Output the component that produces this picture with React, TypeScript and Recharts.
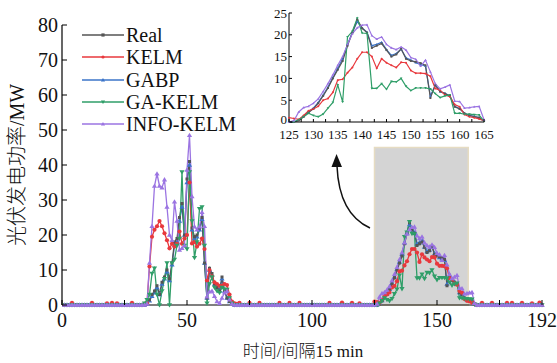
import React from "react";
import { Line, LineChart, ReferenceArea, XAxis, YAxis } from "recharts";

// time step index 1..192 (15 min interval), values in MW
const realValues = [
  0, 0, 0, 0, 0, 0, 0, 0, 0, 0, 0, 0, 0, 0, 0, 0,
  0, 0, 0, 0, 0, 0, 0, 0, 0, 0, 0, 0, 0, 0, 0, 0,
  0, 0.2, 1.5, 3, 4, 5.5, 3, 6.5, 8, 10, 7.5, 12, 18, 19, 25, 29,
  20, 36, 41, 22, 19.5, 20, 22, 25, 12, 2, 10.5, 9, 6, 5, 4, 8,
  4, 2, 1, 0.5, 0, 0, 0, 0, 0, 0, 0, 0, 0, 0, 0, 0,
  0, 0, 0, 0, 0, 0, 0, 0, 0, 0, 0, 0, 0, 0, 0, 0,
  0, 0, 0, 0, 0, 0, 0, 0, 0, 0, 0, 0, 0, 0, 0, 0,
  0, 0, 0, 0, 0, 0, 0, 0, 0, 0, 0, 0, 0, 0, 0.3, 1.2,
  2.2, 3, 4.3, 6, 7.8, 10, 12, 14, 17.5, 20.5, 23.5, 21.5, 20.5, 17, 17.5, 18,
  16.5, 15, 15.5, 16.8, 14.5, 14, 13.8, 13.5, 13, 5.5, 8.5, 7, 6.5, 6, 3.5, 3,
  2, 1.5, 1.2, 1, 0.2, 0, 0, 0, 0, 0, 0, 0, 0, 0, 0, 0,
  0, 0, 0, 0, 0, 0, 0, 0, 0, 0, 0, 0, 0, 0, 0, 0,
];

const kelmValues = [
  0, 0, 0, 0.6, 0, 0, 0, 0, 0, 0, 0, 0.6, 0, 0, 0, 0,
  0, 0.5, 0, 0.6, 0, 0.5, 0, 0, 0, 0, 0, 0.6, 0, 0, 0, 0,
  0.3, 0.5, 11, 19.5, 21.5, 22.5, 24, 22.5, 20.5, 18.5, 16.2, 17.5, 16.7, 17.5, 21, 17.5,
  19, 20, 35, 17.6, 18, 16.7, 17.5, 19, 16, 7, 10, 8.2, 6.5, 6, 5.5, 5.5,
  6, 5.7, 3, 1, 0.5, 0.3, 0.6, 0, 0, 0, 0.6, 0, 0, 0, 0.6, 0,
  0, 0, 0, 0, 0, 0, 0.6, 0, 0, 0, 0.6, 0, 0, 0, 0.6, 0,
  0, 0, 0, 0, 0, 0, 0, 0, 0, 0, 0.6, 0, 0, 0, 0, 0.7,
  0, 0, 0, 0.6, 0, 0, 0.5, 0, 0, 0, 0, 0, 1, 0.8, 0.6, 1.5,
  2.6, 3, 3.6, 5, 5.4, 6.8, 9.6, 9.8, 11.3, 12.5, 14.5, 16, 16, 15, 12.3, 14.5,
  13.6, 13, 12.5, 13.7, 13.6, 11.8, 11.2, 11.2, 11.1, 10.5, 7.7, 7.3, 6.2, 5.8, 4, 3.5,
  1.7, 1.2, 1, 0.7, 0.3, 0, 0, 0.6, 0, 0, 0, 0.6, 0, 0, 0, 0,
  0, 0.6, 0, 0.6, 0, 0, 0, 0.6, 0, 0, 0, 0.5, 0, 0, 0.7, 0,
];

const gabpValues = [
  0, 0, 0, 0, 0, 0, 0, 0, 0, 0, 0, 0, 0, 0, 0, 0,
  0, 0, 0, 0, 0, 0, 0, 0, 0, 0, 0, 0, 0, 0, 0, 0,
  0, 0.2, 1.2, 2.5, 3.5, 5, 3, 6, 7.5, 9.5, 7, 11.5, 17, 18, 24, 28,
  20, 35, 40, 21.5, 19, 19.5, 21.5, 24.5, 12, 2, 10, 8.5, 6, 5, 4, 7.5,
  4, 2, 1, 0.5, 0, 0, 0, 0, 0, 0, 0, 0, 0, 0, 0, 0,
  0, 0, 0, 0, 0, 0, 0, 0, 0, 0, 0, 0, 0, 0, 0, 0,
  0, 0, 0, 0, 0, 0, 0, 0, 0, 0, 0, 0, 0, 0, 0, 0,
  0, 0, 0, 0, 0, 0, 0, 0, 0, 0, 0, 0, 0, 0, 0.5, 1.3,
  2.3, 3.2, 4.5, 6.2, 8, 10.2, 12.3, 14.5, 17.8, 20.6, 23, 21.6, 20.6, 17.5, 17.8, 18.3,
  16.6, 15.3, 15.7, 16.7, 14.7, 14.2, 13.6, 13.2, 12.8, 6, 8.4, 7, 6.6, 6, 3.6, 3.1,
  2, 1.5, 1.3, 1, 0.2, 0, 0, 0, 0, 0, 0, 0, 0, 0, 0, 0,
  0, 0, 0, 0, 0, 0, 0, 0, 0, 0, 0, 0, 0, 0, 0, 0,
];

const gaKelmValues = [
  0, 0, 0, 0, 0, 0, 0, 0, 0, 0, 0, 0, 0, 0, 0, 0,
  0, 0, 0, 0, 0, 0, 0, 0, 0, 0, 0, 0, 0, 0, 0, 0,
  0.5, 1.5, 3, 9, 10.5, 3, 0, 4, 7.5, 12, 0, 12, 13, 17, 19, 38,
  17, 16, 38, 24, 13.5, 18, 27.5, 28, 17, 0.5, 6, 8, 5, 4, 3.5, 5,
  4.5, 4.4, 2, 0.5, 0, 0, 0, 0, 0, 0, 0, 0, 0, 0, 0, 0,
  0, 0, 0, 0, 0, 0, 0, 0, 0, 0, 0, 0, 0, 0, 0, 0,
  0, 0, 0, 0, 0, 0, 0, 0, 0, 0, 0, 0, 0, 0, 0, 0,
  0, 0, 0, 0, 0, 0, 0, 0, 0, 0, 0, 0, 0, 0, 0.5, 1.2,
  2, 1.5, 1.2, 1.8, 3.2, 4.5, 8.5, 4.6, 19.5, 20.8, 23.8, 20.4, 20.3, 7.7, 7.7, 8.8,
  7.5, 9.3, 9.2, 10, 8.2, 7.2, 7.8, 7.8, 7.8, 7.6, 6.5, 5.6, 6, 6.2, 2, 2,
  1.8, 1.8, 1.7, 1.6, 0.2, 0, 0, 0, 0, 0, 0, 0, 0, 0, 0, 0,
  0, 0, 0, 0, 0, 0, 0, 0, 0, 0, 0, 0, 0, 0, 0, 0,
];

const infoKelmValues = [
  0, 0, 0, 0, 0, 0, 0, 0, 0, 0, 0, 0, 0, 0, 0, 0,
  0, 0, 0, 0, 0, 0, 0, 0, 0, 0, 0, 0, 0, 0, 0, 0,
  0, 0.3, 12, 22.5, 34, 37.5, 34, 33.5, 35.8, 28, 20, 18.5, 29.5, 24, 15.7, 16.2,
  17, 38.6, 48.5, 31, 22.4, 21.5, 22.4, 26.5, 22.5, 2.4, 3.8, 4, 2.5, 1, 0.5, 2,
  3.5, 4, 1.5, 0.3, 0, 0, 0, 0, 0, 0, 0, 0, 0, 0, 0, 0,
  0, 0, 0, 0, 0, 0, 0, 0, 0, 0, 0, 0, 0, 0, 0, 0,
  0, 0, 0, 0, 0, 0, 0, 0, 0, 0, 0, 0, 0, 0, 0, 0,
  0, 0, 0, 0, 0, 0, 0, 0, 0, 0, 0, 0, 0, 0.3, 2.3, 3.3,
  3.6, 4.3, 5.3, 7, 8.8, 10.8, 13, 15, 17.8, 20.3, 21.6, 22.2, 22.3, 19.8, 19, 19.5,
  17.8, 17, 16.6, 17.2, 16.5, 14.8, 14.4, 12.8, 14.2, 11.5, 8.8, 7.6, 8, 8.5, 4.8, 4.7,
  3.2, 3.3, 3.5, 3.6, 0.5, 0, 0, 0, 0, 0, 0, 0, 0, 0, 0, 0,
  0, 0, 0, 0, 0, 0, 0, 0, 0, 0, 0, 0, 0, 0, 0, 0,
];

const mainXTicks = [0, 25, 50, 75, 100, 125, 150, 175, 192];
const mainXLabels = [0, 50, 100, 150, 192];
const mainYTicks = [0, 10, 20, 30, 40, 50, 60, 70, 80];
const insetXTicks = [125, 127.5, 130, 132.5, 135, 137.5, 140, 142.5, 145, 147.5, 150, 152.5, 155, 157.5, 160, 162.5, 165];
const insetYTicks = [0, 5, 10, 15, 20, 25];
const zoomRange = [125, 162.5];
const zoomTop = 45;

type Shape = "square" | "circle" | "triUp" | "triDown";

const series: { key: string; name: string; color: string; shape: Shape; size: number }[] = [
  { key: "real", name: "Real", color: "#555555", shape: "square", size: 1.5 },
  { key: "kelm", name: "KELM", color: "#e8383d", shape: "circle", size: 2.1 },
  { key: "gabp", name: "GABP", color: "#3b74c9", shape: "triUp", size: 2 },
  { key: "gaKelm", name: "GA-KELM", color: "#2f9e68", shape: "triDown", size: 2 },
  { key: "infoKelm", name: "INFO-KELM", color: "#9b74e2", shape: "triUp", size: 2 },
];
// GABP goes underneath so the Real trace stays visible
const drawOrder = ["gabp", "real", "kelm", "gaKelm", "infoKelm"];

const data = realValues.map((v, i) => ({
  x: i + 1,
  real: v,
  kelm: kelmValues[i],
  gabp: gabpValues[i],
  gaKelm: gaKelmValues[i],
  infoKelm: infoKelmValues[i],
}));
const insetData = data.filter((d) => d.x >= 125 && d.x <= 165);

const SERIF = '"Liberation Serif", "Times New Roman", serif';
const CJK = '"Liberation Serif", "Noto Sans CJK SC", serif';

function marker(shape: Shape, color: string, cx: number, cy: number, r: number, key?: number) {
  if (shape === "square") {
    return <rect key={key} x={cx - r} y={cy - r} width={r * 2} height={r * 2} fill={color} />;
  }
  if (shape === "circle") {
    return <circle key={key} cx={cx} cy={cy} r={r} fill={color} />;
  }
  const h = r * 1.3;
  const pts =
    shape === "triUp"
      ? `${cx},${cy - h} ${cx - h},${cy + h * 0.7} ${cx + h},${cy + h * 0.7}`
      : `${cx},${cy + h} ${cx - h},${cy - h * 0.7} ${cx + h},${cy - h * 0.7}`;
  return <polygon key={key} points={pts} fill={color} />;
}

function makeDot(shape: Shape, color: string, r: number) {
  return (props: any) => {
    const { cx, cy, index } = props;
    if (cx == null || cy == null) return <g key={index} />;
    return marker(shape, color, cx, cy, r, index);
  };
}

function MainXTick(props: any) {
  const { x, y, payload } = props;
  const show = mainXLabels.includes(payload.value);
  return (
    <g>
      <line x1={x} y1={y} x2={x} y2={y - 5} stroke="#000" strokeWidth={1} />
      {show && (
        <text x={x} y={y + 22} textAnchor="middle" fontSize={20} fontFamily={SERIF} fill="#111">
          {payload.value}
        </text>
      )}
    </g>
  );
}

function MainYTick(props: any) {
  const { x, y, payload } = props;
  return (
    <g>
      <line x1={x} y1={y} x2={x + 5} y2={y} stroke="#000" strokeWidth={1} />
      <text x={x - 4} y={y + 7} textAnchor="end" fontSize={20} fontFamily={SERIF} fill="#111">
        {payload.value}
      </text>
    </g>
  );
}

function InsetXTick(props: any) {
  const { x, y, payload } = props;
  const show = payload.value % 5 === 0;
  return (
    <g>
      <line x1={x} y1={y} x2={x} y2={y - 3} stroke="#000" strokeWidth={1} />
      {show && (
        <text x={x} y={y + 16.5} textAnchor="middle" fontSize={13} fontFamily={SERIF} fill="#111">
          {payload.value}
        </text>
      )}
    </g>
  );
}

function InsetYTick(props: any) {
  const { x, y, payload } = props;
  return (
    <g>
      <line x1={x} y1={y} x2={x + 3} y2={y} stroke="#000" strokeWidth={1} />
      <text x={x - 2} y={y + (payload.value === 0 ? 1.5 : 4.5)} textAnchor="end" fontSize={13} fontFamily={SERIF} fill="#111">
        {payload.value}
      </text>
    </g>
  );
}

function LegendBox() {
  return (
    <div style={{ position: "absolute", left: 82, top: 24, fontFamily: SERIF, fontSize: 20, color: "#111" }}>
      {series.map((s) => (
        <div key={s.key} style={{ display: "flex", alignItems: "center", height: 22.3 }}>
          <svg width={42} height={10} style={{ marginRight: 2 }}>
            <line x1={0} y1={5} x2={42} y2={5} stroke={s.color} strokeWidth={1.3} />
            {marker(s.shape, s.color, 21, 5, 1.6)}
          </svg>
          <span style={{ lineHeight: "22px" }}>{s.name}</span>
        </div>
      ))}
    </div>
  );
}

function byKey(k: string) {
  return series.find((s) => s.key === k)!;
}

export default function App() {
  return (
    <div style={{ position: "fixed", left: 0, top: 0, width: 557, height: 363, background: "#fff" }}>
      <LineChart width={557} height={363} data={data} margin={{ top: 25, right: 15, left: 0, bottom: 0 }}>
        <ReferenceArea
          x1={zoomRange[0]}
          x2={zoomRange[1]}
          y1={0}
          y2={zoomTop}
          fill="#d4d4d4"
          fillOpacity={1}
          stroke="#e6dcc2"
          strokeWidth={1.5}
        />
        <XAxis
          dataKey="x"
          type="number"
          domain={[0, 192]}
          ticks={mainXTicks}
          interval={0}
          height={58}
          tickSize={0}
          tickMargin={0}
          tickLine={false}
          tick={<MainXTick />}
          axisLine={{ stroke: "#000", strokeWidth: 1.2 }}
        />
        <YAxis
          type="number"
          domain={[0, 80]}
          ticks={mainYTicks}
          interval={0}
          width={62}
          tickSize={0}
          tickMargin={0}
          tickLine={false}
          tick={<MainYTick />}
          axisLine={{ stroke: "#000", strokeWidth: 1.2 }}
        />
        {drawOrder.map((k) => {
          const s = byKey(k);
          return (
            <Line
              key={k}
              dataKey={k}
              name={s.name}
              type="linear"
              stroke={s.color}
              strokeWidth={1.3}
              dot={makeDot(s.shape, s.color, s.size)}
              activeDot={false}
              isAnimationActive={false}
            />
          );
        })}
      </LineChart>

      <div style={{ position: "absolute", left: 240, top: 0 }}>
        <LineChart width={260} height={145} data={insetData} margin={{ top: 13, right: 16, left: 0, bottom: 0 }}>
          <XAxis
            dataKey="x"
            type="number"
            domain={[125, 165]}
            ticks={insetXTicks}
            interval={0}
            height={23}
            tickSize={0}
            tickMargin={0}
            tickLine={false}
            tick={<InsetXTick />}
            axisLine={{ stroke: "#000", strokeWidth: 1 }}
          />
          <YAxis
            type="number"
            domain={[0, 25]}
            ticks={insetYTicks}
            interval={0}
            width={49}
            tickSize={0}
            tickMargin={0}
            tickLine={false}
            tick={<InsetYTick />}
            axisLine={{ stroke: "#000", strokeWidth: 1 }}
          />
          {drawOrder.map((k) => {
            const s = byKey(k);
            return (
              <Line
                key={k}
                dataKey={k}
                name={s.name}
                type="linear"
                stroke={s.color}
                strokeWidth={1.2}
                dot={makeDot(s.shape, s.color, 1)}
                activeDot={false}
                isAnimationActive={false}
              />
            );
          })}
        </LineChart>
      </div>

      <LegendBox />

      <svg width={557} height={363} style={{ position: "absolute", left: 0, top: 0, pointerEvents: "none" }}>
        <path d="M370,228 Q339,214 337,166" fill="none" stroke="#111" strokeWidth={1.5} />
        <polygon points="336.5,154 331.5,167 342,167" fill="#111" />
        <text
          transform="translate(24,165) rotate(-90)"
          textAnchor="middle"
          fontSize={20}
          fontWeight={300}
          fontFamily={CJK}
          fill="#111"
        >
          光伏发电功率/MW
        </text>
        <text x={303} y={357} textAnchor="middle" fontSize={17} fontWeight={300} fontFamily={CJK} fill="#111">
          时间/间隔15 min
        </text>
      </svg>
    </div>
  );
}
